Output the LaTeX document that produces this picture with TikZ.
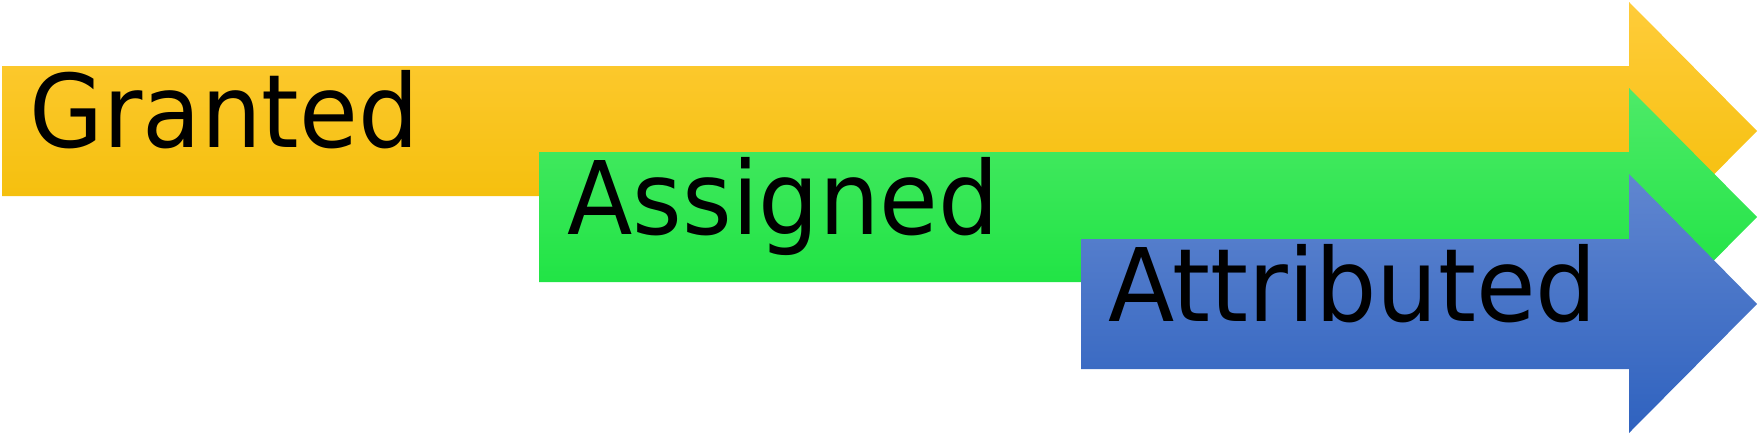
\documentclass[tikz,border=0pt]{standalone}
\usepackage{fontspec}
\setmainfont{DejaVu Sans Condensed}
\definecolor{orangeTop}{HTML}{FFCC3A}
\definecolor{orangeMid}{HTML}{FFC800}
\definecolor{orangeBot}{HTML}{F2BC00}
\definecolor{greenTop}{HTML}{4EEA68}
\definecolor{greenMid}{HTML}{24EA4A}
\definecolor{greenBot}{HTML}{12E23A}
\definecolor{blueTop}{HTML}{6086D0}
\definecolor{blueMid}{HTML}{4675CE}
\definecolor{blueBot}{HTML}{2F62BF}
\begin{document}
\begin{tikzpicture}[x=0.5pt,y=-0.5pt,
  lbl/.style={anchor=base west,inner sep=0pt,font=\fontsize{50.75pt}{60pt}\selectfont,text=black}]
\useasboundingbox (0,0) rectangle (1758,435);
% orange arrow
\shade[top color=orangeTop,middle color=orangeMid,bottom color=orangeBot]
  (2,66) -- (1629,66) -- (1629,2) -- (1757,131) -- (1629,260) -- (1629,196) -- (2,196) -- cycle;
% green arrow
\shade[top color=greenTop,middle color=greenMid,bottom color=greenBot]
  (539,152) -- (1629,152) -- (1629,88) -- (1757,217) -- (1629,346) -- (1629,282) -- (539,282) -- cycle;
% blue arrow
\shade[top color=blueTop,middle color=blueMid,bottom color=blueBot]
  (1081,239) -- (1629,239) -- (1629,174) -- (1757,304) -- (1629,433) -- (1629,369) -- (1081,369) -- cycle;
\node[lbl,xscale=1.047] (granted) at (29,147) {Granted};
\node[lbl,xscale=1.045] (assigned) at (567,234) {Assigned};
\node[lbl,xscale=1.06] (attributed) at (1108,321) {Attributed};
\end{tikzpicture}
\end{document}
